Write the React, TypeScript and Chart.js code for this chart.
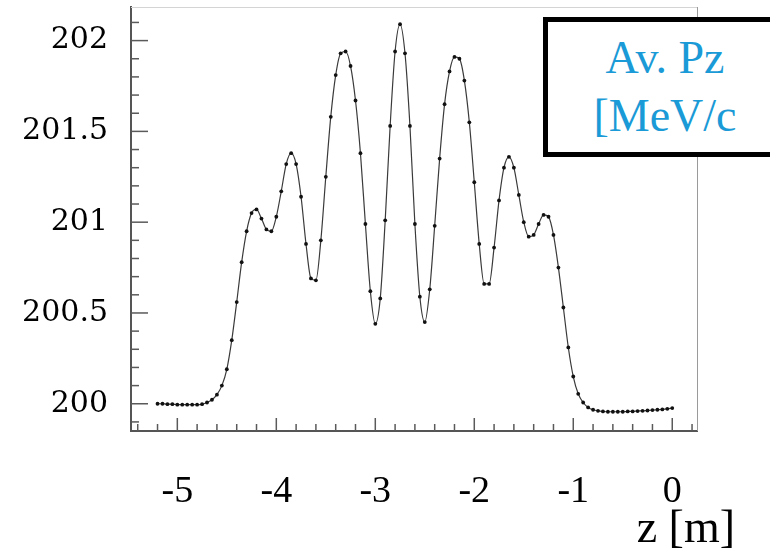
import React, { useEffect, useRef } from "react";
import { Chart, registerables } from "chart.js";

Chart.register(...registerables);

// z positions [m]
const zPositions = [
  -5.2, -5.15, -5.1, -5.05, -5.0, -4.95, -4.9, -4.85, -4.8, -4.75,
  -4.7, -4.65, -4.6, -4.55, -4.5, -4.45, -4.4, -4.35, -4.3, -4.25,
  -4.2, -4.15, -4.1, -4.05, -4.0, -3.95, -3.9, -3.85, -3.8, -3.75,
  -3.7, -3.65, -3.6, -3.55, -3.5, -3.45, -3.4, -3.35, -3.3, -3.25,
  -3.2, -3.15, -3.1, -3.05, -3.0, -2.95, -2.9, -2.85, -2.8, -2.75,
  -2.7, -2.65, -2.6, -2.55, -2.5, -2.45, -2.4, -2.35, -2.3, -2.25,
  -2.2, -2.15, -2.1, -2.05, -2.0, -1.95, -1.9, -1.85, -1.8, -1.75,
  -1.7, -1.65, -1.6, -1.55, -1.5, -1.45, -1.4, -1.35, -1.3, -1.25,
  -1.2, -1.15, -1.1, -1.05, -1.0, -0.95, -0.9, -0.85, -0.8, -0.75,
  -0.7, -0.65, -0.6, -0.55, -0.5, -0.45, -0.4, -0.35, -0.3, -0.25,
  -0.2, -0.15, -0.1, -0.05, 0.0,
];

// average Pz [MeV/c]
const avgPz = [
  200.0, 200.0, 199.998, 199.998, 199.995, 199.995, 199.995, 199.995, 199.995, 199.998,
  200.007, 200.022, 200.05, 200.1, 200.19, 200.35, 200.56, 200.78, 200.95, 201.05,
  201.07, 201.02, 200.96, 200.95, 201.03, 201.17, 201.32, 201.38, 201.32, 201.14,
  200.88, 200.69, 200.68, 200.9, 201.25, 201.58, 201.81, 201.93, 201.94, 201.86,
  201.67, 201.38, 200.99, 200.62, 200.44, 200.58, 201.01, 201.53, 201.94, 202.09,
  201.93, 201.53, 200.99, 200.59, 200.45, 200.63, 200.98, 201.35, 201.65, 201.83,
  201.91, 201.9, 201.78, 201.55, 201.22, 200.88, 200.66, 200.66, 200.86, 201.12,
  201.3, 201.36, 201.3, 201.15, 201.0, 200.92, 200.93, 200.99, 201.04, 201.03,
  200.93, 200.75, 200.53, 200.31, 200.15, 200.055, 200.007, 199.98, 199.967, 199.961,
  199.958, 199.956, 199.956, 199.956, 199.956, 199.958, 199.958, 199.96, 199.961, 199.963,
  199.965, 199.967, 199.969, 199.972, 199.976,
];

const xTickValues = [-5, -4, -3, -2, -1, 0];
const xTickLabels = ["-5", "-4", "-3", "-2", "-1", "0"];
const yTickValues = [200, 200.5, 201, 201.5, 202];
const yTickLabels = ["200", "200.5", "201", "201.5", "202"];

const xMin = -5.468;
const xMax = 0.25;
const yMin = 199.85;
const yMax = 202.185;

const legendLines = ["Av. Pz", "[MeV/c"];
const xTitle = "z [m]";

const frameTicks = {
  id: "frameTicks",
  afterDraw(chart: any) {
    const { ctx, chartArea } = chart;
    const xs = chart.scales.x;
    const ys = chart.scales.y;
    ctx.save();
    // top and right frame lines
    ctx.lineWidth = 1;
    ctx.strokeStyle = "#d4d4d4";
    ctx.beginPath();
    ctx.moveTo(chartArea.left, chartArea.top + 0.5);
    ctx.lineTo(chartArea.right, chartArea.top + 0.5);
    ctx.stroke();
    ctx.strokeStyle = "#9a9a9a";
    ctx.beginPath();
    ctx.moveTo(chartArea.right + 0.5, chartArea.top);
    ctx.lineTo(chartArea.right + 0.5, chartArea.bottom);
    ctx.stroke();
    // inward ticks on y axis (every 0.1)
    ctx.strokeStyle = "#5a5a5a";
    ctx.lineWidth = 1.5;
    for (let k = 1999; k <= 2021; k++) {
      const v = k / 10;
      const p = ys.getPixelForValue(v);
      if (p < chartArea.top || p > chartArea.bottom) continue;
      const len = k % 5 === 0 ? 17 : 8;
      ctx.beginPath();
      ctx.moveTo(chartArea.left, p);
      ctx.lineTo(chartArea.left + len, p);
      ctx.stroke();
    }
    // inward ticks on x axis (every 0.2)
    for (let k = -27; k <= 1; k++) {
      const v = k / 5;
      const p = xs.getPixelForValue(v);
      if (p < chartArea.left || p > chartArea.right) continue;
      const len = k % 5 === 0 ? 13 : 7;
      ctx.beginPath();
      ctx.moveTo(p, chartArea.bottom);
      ctx.lineTo(p, chartArea.bottom - len);
      ctx.stroke();
    }
    ctx.restore();
  },
};

export default function App() {
  const canvasRef = useRef<HTMLCanvasElement | null>(null);

  useEffect(() => {
    const canvas = canvasRef.current;
    if (!canvas) return;
    const chart = new Chart(canvas, {
      type: "line",
      data: {
        datasets: [
          {
            data: zPositions.map((z, i) => ({ x: z, y: avgPz[i] })),
            borderColor: "#3a3a3a",
            borderWidth: 1.2,
            pointRadius: 1.9,
            pointBackgroundColor: "#111",
            pointBorderWidth: 0,
            cubicInterpolationMode: "monotone",
            fill: false,
          },
        ],
      },
      options: {
        responsive: false,
        animation: false,
        devicePixelRatio: 1,
        layout: { padding: { left: 0, top: 7, right: 73, bottom: 0 } },
        plugins: {
          legend: { display: false },
          tooltip: { enabled: false },
          title: { display: false },
        },
        scales: {
          x: {
            type: "linear",
            min: xMin,
            max: xMax,
            grid: { display: false, drawTicks: false },
            border: { display: true, color: "#555", width: 2 },
            afterFit: (s: any) => {
              s.height = 123;
              s.paddingLeft = 0;
              s.paddingRight = 0;
              s.paddingTop = 0;
              s.paddingBottom = 0;
            },
            afterBuildTicks: (s: any) => {
              s.ticks = xTickValues.map((v) => ({ value: v }));
            },
            ticks: {
              padding: 38,
              autoSkip: false,
              maxRotation: 0,
              color: "#000",
              font: { family: "'Liberation Serif', serif", size: 38 },
              callback: (v: any) => {
                const i = xTickValues.indexOf(Number(v));
                return i >= 0 ? xTickLabels[i] : "";
              },
            },
          },
          y: {
            type: "linear",
            min: yMin,
            max: yMax,
            grid: { display: false, drawTicks: false },
            border: { display: true, color: "#555", width: 2 },
            afterFit: (s: any) => {
              s.width = 131;
              s.paddingLeft = 0;
              s.paddingRight = 0;
              s.paddingTop = 0;
              s.paddingBottom = 0;
            },
            afterBuildTicks: (s: any) => {
              s.ticks = yTickValues.map((v) => ({ value: v }));
            },
            ticks: {
              padding: 23,
              autoSkip: false,
              color: "#000",
              font: { family: "'DejaVu Serif', serif", size: 30 },
              callback: (v: any) => {
                const i = yTickValues.indexOf(Number(v));
                return i >= 0 ? yTickLabels[i] : "";
              },
            },
          },
        },
      },
      plugins: [frameTicks],
    });
    return () => chart.destroy();
  }, []);

  return (
    <div
      style={{
        position: "fixed",
        left: 0,
        top: 0,
        width: 770,
        height: 554,
        overflow: "hidden",
        background: "#fff",
      }}
    >
      <canvas
        ref={canvasRef}
        width={770}
        height={554}
        style={{ position: "absolute", left: 0, top: 0, width: 770, height: 554 }}
      />
      <div
        style={{
          position: "absolute",
          left: 543,
          top: 17,
          width: 260,
          height: 140,
          boxSizing: "border-box",
          border: "5px solid #000",
          background: "#fff",
        }}
      />
      <div
        style={{
          position: "absolute",
          left: 560,
          top: 29,
          width: 210,
          textAlign: "center",
          fontFamily: "'Liberation Serif', serif",
          fontSize: 46,
          lineHeight: "58px",
          color: "#1a9ad6",
          whiteSpace: "nowrap",
        }}
      >
        {legendLines.map((t) => (
          <div key={t}>{t}</div>
        ))}
      </div>
      <div
        style={{
          position: "absolute",
          right: 35,
          top: 504,
          fontFamily: "'Liberation Serif', serif",
          fontSize: 46,
          lineHeight: "46px",
          color: "#000",
          whiteSpace: "nowrap",
        }}
      >
        {xTitle}
      </div>
    </div>
  );
}
